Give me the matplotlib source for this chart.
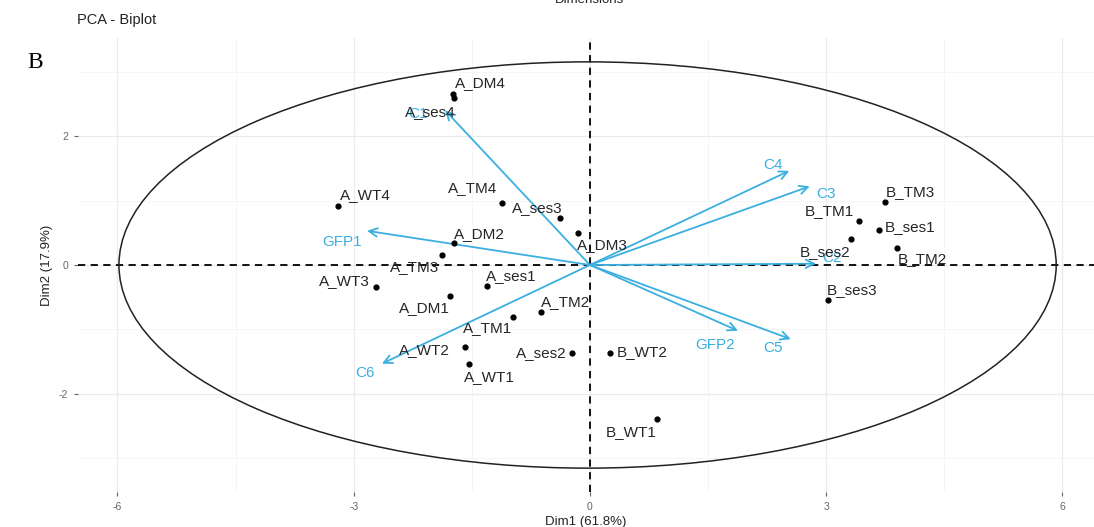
import matplotlib
matplotlib.use("Agg")
import matplotlib.pyplot as plt
from matplotlib.patches import Ellipse

plt.rcParams["font.family"] = ["Liberation Sans", "DejaVu Sans"]
plt.rcParams["axes.unicode_minus"] = False

# individuals (Dim1, Dim2)
ind_names = ["A_DM4", "A_ses4", "A_WT4", "A_TM4", "A_ses3", "A_DM3", "A_DM2",
             "A_TM3", "A_WT3", "A_ses1", "A_DM1", "A_TM2", "A_TM1", "A_WT2",
             "A_WT1", "A_ses2", "B_WT2", "B_WT1", "B_TM3", "B_TM1", "B_ses1",
             "B_ses2", "B_TM2", "B_ses3"]
ind_x = [-1.74, -1.72, -3.20, -1.12, -0.38, -0.15, -1.73, -1.88, -2.72, -1.31,
         -1.78, -0.62, -0.98, -1.59, -1.54, -0.23, 0.25, 0.85, 3.75, 3.42,
         3.67, 3.31, 3.90, 3.02]
ind_y = [2.65, 2.59, 0.91, 0.96, 0.73, 0.50, 0.34, 0.16, -0.34, -0.33,
         -0.48, -0.73, -0.80, -1.27, -1.53, -1.37, -1.36, -2.39, 0.98, 0.68,
         0.54, 0.40, 0.26, -0.54]

# variables (arrow tips)
var_names = ["GFP1", "C1", "C4", "C3", "C2", "GFP2", "C5", "C6"]
var_x = [-2.83, -1.84, 2.53, 2.79, 2.87, 1.88, 2.55, -2.64]
var_y = [0.53, 2.40, 1.46, 1.22, 0.02, -1.02, -1.15, -1.53]

ellipse_center = (-0.03, 0.0)
ellipse_size = (11.9, 6.3)

# label offsets in pixels (layout only)
ind_off = [(28, 11), (-24, -14), (27, 11), (-29, 15), (-23, 10), (24, -12),
           (26, 9), (-27, -12), (-31, 6), (25, 10), (-25, -12), (24, 10),
           (-25, -11), (-40, -3), (21, -13), (-31, 0), (33, 1), (-26, -13),
           (25, 10), (-30, 10), (31, 3), (-26, -13), (25, -11), (24, 10)]
var_off = [(-25, -11), (-27, -4), (-16, 6), (16, -8), (16, 6), (-23, -14),
           (-18, -9), (-17, -9)]

BLUE = "#3aafe0"

fig = plt.figure(figsize=(10.94, 5.27), dpi=100)
ax = fig.add_axes([78 / 1094, 1 - 492 / 527, 1 - 78 / 1094, 454 / 527])
ax.set_xlim(-6.5, 6.4)
ax.set_ylim(-3.52, 3.52)

ax.set_xticks([-6, -3, 0, 3, 6])
ax.set_yticks([-2, 0, 2])
ax.set_xticks([-4.5, -1.5, 1.5, 4.5], minor=True)
ax.set_yticks([-3, -1, 1, 3], minor=True)
ax.grid(True, which="major", color="#ebebeb", lw=0.9)
ax.grid(True, which="minor", color="#f2f2f2", lw=0.5)
ax.set_axisbelow(True)
for s in ax.spines.values():
    s.set_visible(False)
ax.tick_params(which="major", length=3, color="#666666", labelcolor="#666666",
               labelsize=7.5, pad=4)
ax.tick_params(which="minor", length=0)

ax.axhline(0, color="black", ls=(0, (4, 3)), lw=1.3, zorder=2)
ax.axvline(0, color="black", ls=(0, (4, 3)), lw=1.3, zorder=2)

ax.add_patch(Ellipse(ellipse_center, ellipse_size[0], ellipse_size[1],
                     fill=False, color="#222222", lw=1.1, zorder=2))

ax.scatter(ind_x, ind_y, s=12, color="black", zorder=4)
for name, x, y, off in zip(ind_names, ind_x, ind_y, ind_off):
    ax.annotate(name, (x, y), xytext=off, textcoords="offset pixels",
                ha="center", va="center", fontsize=11, color="#262626", zorder=5)

for name, x, y, off in zip(var_names, var_x, var_y, var_off):
    ax.annotate("", xy=(x, y), xytext=(0, 0),
                arrowprops=dict(arrowstyle="->,head_length=0.6,head_width=0.3",
                                color=BLUE, lw=1.3, shrinkA=0, shrinkB=0),
                zorder=3)
    ax.annotate(name, (x, y), xytext=off, textcoords="offset pixels",
                ha="center", va="center", fontsize=11, color=BLUE, zorder=3)

ax.set_xlabel("Dim1 (61.8%)", fontsize=9.5, color="#222222", labelpad=3)
ax.set_ylabel("Dim2 (17.9%)", fontsize=9.5, color="#222222", labelpad=4)

fig.text(77 / 1094, 1 - 20 / 527, "PCA - Biplot", fontsize=10.5, color="#222222",
         ha="left", va="center")
fig.text(35 / 1094, 1 - 62 / 527, "B", fontsize=17, family="Liberation Serif",
         ha="center", va="center")
fig.text(590 / 1094, 1.0, "Dimensions", fontsize=9.5, color="#222222",
         ha="center", va="center")

fig.savefig("out.png", dpi=100)
